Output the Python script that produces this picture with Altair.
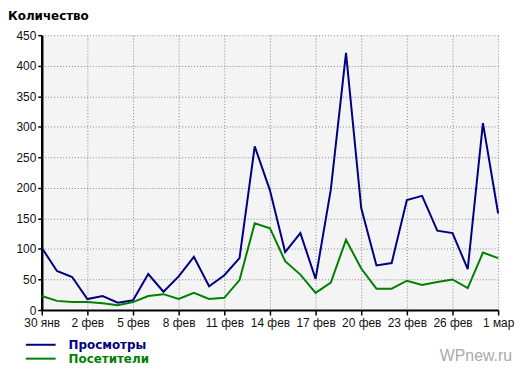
import altair as alt
import pandas as pd

days = ["30 янв", "31 янв",
        "1 фев", "2 фев", "3 фев", "4 фев", "5 фев", "6 фев", "7 фев", "8 фев",
        "9 фев", "10 фев", "11 фев", "12 фев", "13 фев", "14 фев", "15 фев",
        "16 фев", "17 фев", "18 фев", "19 фев", "20 фев", "21 фев", "22 фев",
        "23 фев", "24 фев", "25 фев", "26 фев", "27 фев", "28 фев", "1 мар"]
views = [102, 64, 54, 18, 23, 12, 16, 59, 30, 55, 87, 39, 57, 85, 268, 196,
         95, 126, 51, 197, 421, 167, 73, 77, 180, 187, 130, 126, 67, 306, 158]
visitors = [23, 15, 13, 13, 11, 8, 13, 23, 26, 18, 28, 18, 20, 49, 142, 134,
            80, 58, 28, 45, 115, 68, 35, 35, 48, 41, 46, 50, 36, 94, 85]
series = ["Просмотры", "Посетители"]
colors = ["#000080", "#008000"]
tick_labels = ["30 янв", "2 фев", "5 фев", "8 фев", "11 фев", "14 фев",
               "17 фев", "20 фев", "23 фев", "26 фев", "1 мар"]
y_ticks = [0, 50, 100, 150, 200, 250, 300, 350, 400, 450]

rows = []
for i, d in enumerate(days):
    rows.append({"day": d, "series": series[0], "value": views[i], "ord": 0})
    rows.append({"day": d, "series": series[1], "value": visitors[i], "ord": 1})
df = pd.DataFrame(rows)

lines = alt.Chart(df).mark_line(strokeWidth=2).encode(
    x=alt.X("day:O", sort=days, title=None,
            scale=alt.Scale(type="point", padding=0),
            axis=alt.Axis(values=tick_labels, labelAngle=0, grid=True,
                          gridColor="#888888", gridDash=[1, 2], gridWidth=1,
                          domainColor="#000000", domainWidth=2,
                          tickColor="#000000", tickSize=5, tickWidth=1.5,
                          labelFont="Liberation Sans", labelFontSize=12,
                          labelColor="#111111", labelPadding=3)),
    y=alt.Y("value:Q", title=None,
            scale=alt.Scale(domain=[0, 450], nice=False),
            axis=alt.Axis(values=y_ticks, grid=True,
                          gridColor="#888888", gridDash=[1, 2], gridWidth=1,
                          domainColor="#000000", domainWidth=2.5,
                          tickColor="#000000", tickSize=4, tickWidth=1.5,
                          labelFont="Liberation Sans", labelFontSize=12,
                          labelColor="#111111", labelPadding=2)),
    color=alt.Color("series:N", scale=alt.Scale(domain=series, range=colors),
                    legend=alt.Legend(
                        orient="none", legendX=-7, legendY=306, title=None,
                        symbolType="M-5,0H5", symbolSize=36,
                        symbolStrokeWidth=2, labelFont="DejaVu Sans",
                        labelFontWeight="bold", labelFontSize=12,
                        labelOffset=22, rowPadding=2, padding=0,
                        labelColor={"expr": "datum.value == 'Просмотры' ? '#000080' : '#008000'"})),
    order="ord:Q",
    detail="series:N",
)

mark = alt.Chart(pd.DataFrame({"t": ["WPnew.ru"]})).mark_text(
    align="right", baseline="alphabetic", font="Liberation Sans",
    fontSize=16, color="#aaaaaa"
).encode(text="t:N", x=alt.value(474), y=alt.value(328))

chart = alt.layer(lines, mark).properties(
    width=460, height=277,
    autosize=alt.AutoSizeParams(type="none"),
    padding={"left": 34, "top": 26, "right": 20, "bottom": 55},
    background="#ffffff",
    title=alt.TitleParams("Количество", anchor="start", frame="group", dx=-34,
                          font="DejaVu Sans", fontSize=12, fontWeight="bold",
                          color="#000000", offset=6),
).configure_view(fill="#f4f4f4", stroke="transparent")

chart.save("out.html", embed_options={"renderer": "svg", "actions": False})
